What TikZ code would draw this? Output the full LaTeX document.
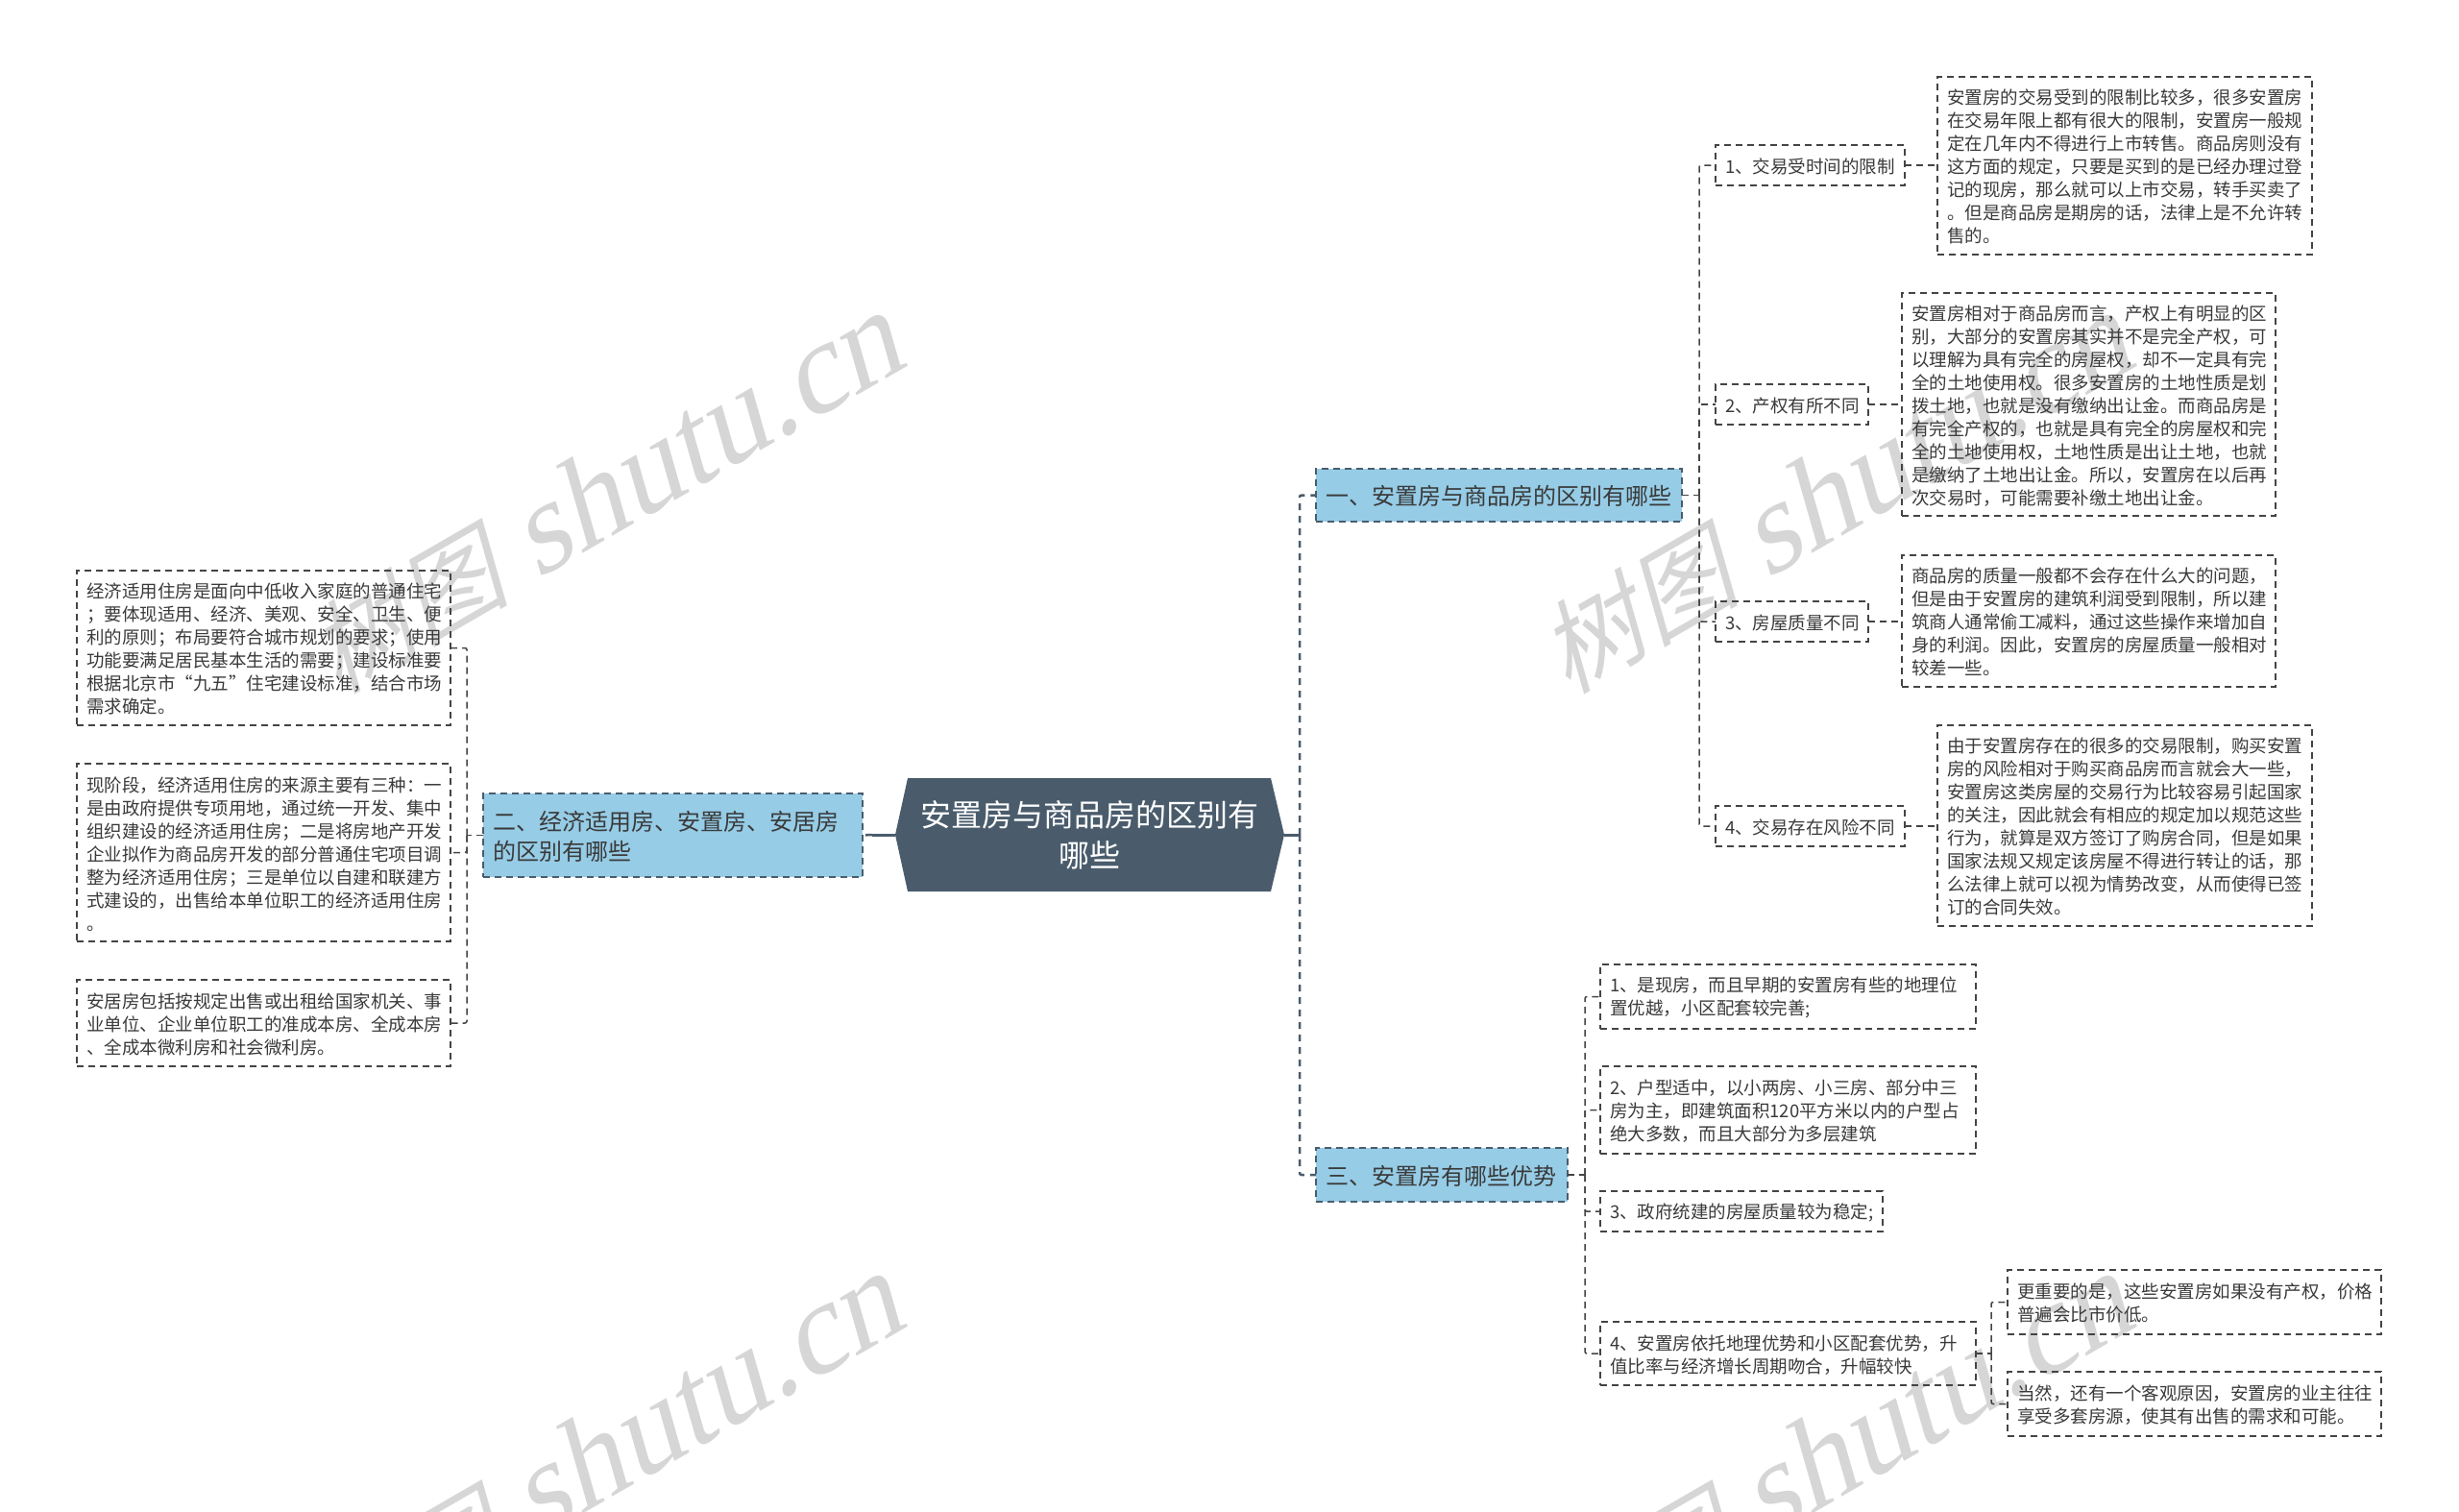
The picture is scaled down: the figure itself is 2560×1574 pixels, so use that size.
\documentclass[tikz,border=0pt]{standalone}
\usepackage{fontspec}
\setmainfont{Noto Sans CJK SC}
\newfontfamily\wmcjk[FakeSlant=0.25]{Noto Sans CJK SC}
\newfontfamily\wmlat[FakeSlant=0.25]{Liberation Serif}
\definecolor{linec}{HTML}{444444}
\definecolor{txt}{HTML}{3A3A3A}
\definecolor{blue1}{HTML}{96CCE6}
\definecolor{dark1}{HTML}{4A5C6C}
\definecolor{wm}{HTML}{D6D6D6}
\tikzset{
  dashbox/.style={draw=linec,line width=1.5pt,dash pattern=on 7pt off 5pt,inner xsep=10pt,inner ysep=0pt,outer sep=0pt,align=left,text=txt},
  leaf/.style={dashbox,font=\fontsize{18.5pt}{24pt}\selectfont},
  sub/.style={dashbox,draw=dark1,fill=blue1,font=\fontsize{24pt}{31pt}\selectfont},
  conn/.style={draw=linec,line width=1.5pt,dash pattern=on 7pt off 5pt,rounded corners=2pt},
  mainc/.style={draw=dark1,line width=2.5pt,dash pattern=on 7pt off 6pt,rounded corners=2pt},
  thickc/.style={draw=dark1,line width=3pt},
  wmark/.style={text=wm,rotate=30,anchor=base east,inner sep=0pt,font=\fontsize{133pt}{133pt}\selectfont}
}
\newcommand{\tbox}[7][leaf]{\node[#1,minimum width=#5pt,minimum height=#6pt,text width={#5pt-20pt}] (#2) at (#3,#4) {\rule{0pt}{\dimexpr 5pt+0.727em\relax}#7};}
\newcommand{\wmtext}{{\wmcjk\fontsize{105pt}{128pt}\selectfont 树图} {\wmlat shutu.cn}}
\begin{document}
\begin{tikzpicture}[x=1pt,y=-1pt]
\useasboundingbox (0,0) rectangle (2560,1574);
\fill[white] (0,0) rectangle (2560,1574);
\begin{scope}
\clip (0,0) rectangle (2560,1574);
\node[wmark] (w1) at (947,380) {\wmtext};
\node[wmark] (w2) at (2227,380) {\wmtext};
\node[wmark] (w3) at (947,1380) {\wmtext};
\node[wmark] (w4) at (2227,1380) {\wmtext};
\end{scope}
% centre
\fill[dark1] (932,869) -- (945,810) -- (1323,810) -- (1337,869) -- (1323,928) -- (945,928) -- cycle;
\node[text=white,align=center,inner sep=0pt,outer sep=0pt,minimum width=405pt,minimum height=118pt,font=\fontsize{32pt}{42pt}\selectfont] (c) at (1134.5,869) {安置房与商品房的区别有\\哪些};
% level 1
\tbox[sub]{na}{1560.5}{515.5}{381}{55}{一、安置房与商品房的区别有哪些}
\tbox[sub]{nb}{700.5}{869.5}{395}{87}{二、经济适用房、安置房、安居房\\的区别有哪些}
\tbox[sub]{nc}{1501}{1223}{262}{56}{三、安置房有哪些优势}
% right upper
\tbox{ca}{1884.5}{172}{197}{42}{1、交易受时间的限制}
\tbox{cb}{1865.5}{421}{159}{42}{2、产权有所不同}
\tbox{cc}{1865.5}{647}{159}{42}{3、房屋质量不同}
\tbox{cd}{1884.5}{860}{197}{42}{4、交易存在风险不同}
\tbox{ta}{2212}{172.5}{390}{185}{安置房的交易受到的限制比较多，很多安置房\\在交易年限上都有很大的限制，安置房一般规\\定在几年内不得进行上市转售。商品房则没有\\这方面的规定，只要是买到的是已经办理过登\\记的现房，那么就可以上市交易，转手买卖了\\。但是商品房是期房的话，法律上是不允许转\\售的。}
\tbox{tb}{2174.5}{421}{389}{232}{安置房相对于商品房而言，产权上有明显的区\\别，大部分的安置房其实并不是完全产权，可\\以理解为具有完全的房屋权，却不一定具有完\\全的土地使用权。很多安置房的土地性质是划\\拨土地，也就是没有缴纳出让金。而商品房是\\有完全产权的，也就是具有完全的房屋权和完\\全的土地使用权，土地性质是出让土地，也就\\是缴纳了土地出让金。所以，安置房在以后再\\次交易时，可能需要补缴土地出让金。}
\tbox{tc}{2174.5}{646.5}{389}{137}{商品房的质量一般都不会存在什么大的问题，\\但是由于安置房的建筑利润受到限制，所以建\\筑商人通常偷工减料，通过这些操作来增加自\\身的利润。因此，安置房的房屋质量一般相对\\较差一些。}
\tbox{td}{2212}{859.5}{390}{209}{由于安置房存在的很多的交易限制，购买安置\\房的风险相对于购买商品房而言就会大一些，\\安置房这类房屋的交易行为比较容易引起国家\\的关注，因此就会有相应的规定加以规范这些\\行为，就算是双方签订了购房合同，但是如果\\国家法规又规定该房屋不得进行转让的话，那\\么法律上就可以视为情势改变，从而使得已签\\订的合同失效。}
% right lower
\tbox{ra}{1861.5}{1037.5}{391}{67}{1、是现房，而且早期的安置房有些的地理位\\置优越，小区配套较完善;}
\tbox{rb}{1861.5}{1155.5}{391}{91}{2、户型适中，以小两房、小三房、部分中三\\房为主，即建筑面积120平方米以内的户型占\\绝大多数，而且大部分为多层建筑}
\tbox{rc}{1813}{1261}{294}{42}{3、政府统建的房屋质量较为稳定;}
\tbox{rd}{1861.5}{1409}{391}{66}{4、安置房依托地理优势和小区配套优势，升\\值比率与经济增长周期吻合，升幅较快}
\tbox{sa}{2284.5}{1355.5}{389}{67}{更重要的是，这些安置房如果没有产权，价格\\普遍会比市价低。}
\tbox{sb}{2284.5}{1461.5}{389}{67}{当然，还有一个客观原因，安置房的业主往往\\享受多套房源，使其有出售的需求和可能。}
% left
\tbox{la}{274.5}{674.5}{389}{161}{经济适用住房是面向中低收入家庭的普通住宅\\；要体现适用、经济、美观、安全、卫生、便\\利的原则；布局要符合城市规划的要求；使用\\功能要满足居民基本生活的需要；建设标准要\\根据北京市“九五”住宅建设标准，结合市场\\需求确定。}
\tbox{lb}{274.5}{887.5}{389}{185}{现阶段，经济适用住房的来源主要有三种：一\\是由政府提供专项用地，通过统一开发、集中\\组织建设的经济适用住房；二是将房地产开发\\企业拟作为商品房开发的部分普通住宅项目调\\整为经济适用住房；三是单位以自建和联建方\\式建设的，出售给本单位职工的经济适用住房\\。}
\tbox{lc}{274.5}{1065}{389}{90}{安居房包括按规定出售或出租给国家机关、事\\业单位、企业单位职工的准成本房、全成本房\\、全成本微利房和社会微利房。}
% trunk coordinates
\coordinate (xc) at (1353,869);
\coordinate (xl) at (908,869);
\coordinate (xa) at (1769,515.5);
\coordinate (xn) at (1650,1223);
\coordinate (xr) at (2073,1409);
\coordinate (xb) at (486,869.5);
% connectors
\draw[thickc] (c.east) -- (xc);
\draw[thickc] (c.west) -- (xl);
\draw[mainc] (xl) -- (nb.east);
\draw[mainc] (xc) |- (na.west);
\draw[mainc] (xc) |- (nc.west);
\draw[conn] (na.east) -- (xa);
\draw[conn] (xa) |- (ca.west);
\draw[conn] (xa) |- (cb.west);
\draw[conn] (xa) |- (cc.west);
\draw[conn] (xa) |- (cd.west);
\draw[conn] (ca.east) -- (ta.west |- ca.east);
\draw[conn] (cb.east) -- (tb.west |- cb.east);
\draw[conn] (cc.east) -- (tc.west |- cc.east);
\draw[conn] (cd.east) -- (td.west |- cd.east);
\draw[conn] (nc.east) -- (xn);
\draw[conn] (xn) |- (ra.west);
\draw[conn] (xn) |- (rb.west);
\draw[conn] (xn) |- (rc.west);
\draw[conn] (xn) |- (rd.west);
\draw[conn] (rd.east) -- (xr);
\draw[conn] (xr) |- (sa.west);
\draw[conn] (xr) |- (sb.west);
\draw[conn] (nb.west) -- (xb);
\draw[conn] (xb) |- (la.east);
\draw[conn] (xb) |- (lb.east);
\draw[conn] (xb) |- (lc.east);
\end{tikzpicture}
\end{document}
